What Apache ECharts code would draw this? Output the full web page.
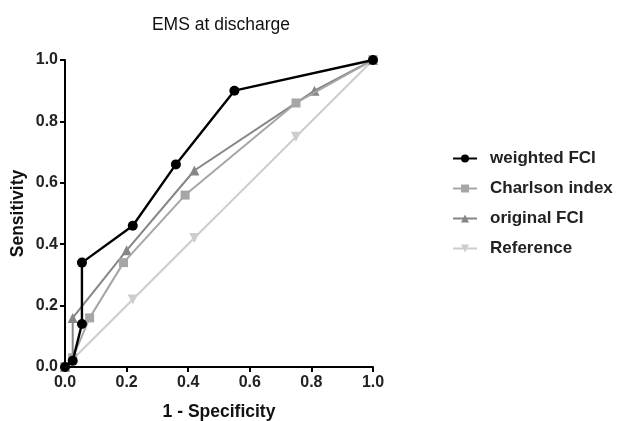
<!DOCTYPE html>
<html>
<head>
<meta charset="utf-8">
<script src="https://cdn.jsdelivr.net/npm/echarts@6/dist/echarts.min.js"></script>
<style>
  html, body { margin: 0; padding: 0; background: #fff; }
  #chart { width: 623px; height: 421px; }
</style>
</head>
<body>
<div id="chart"></div>
<script>
// ROC points, [1 - specificity, sensitivity]
var weightedFCI = [[0, 0], [0.025, 0.02], [0.055, 0.14], [0.055, 0.34], [0.22, 0.46], [0.36, 0.66], [0.55, 0.90], [1, 1]];
var charlsonIndex = [[0, 0], [0.025, 0.03], [0.08, 0.16], [0.19, 0.34], [0.39, 0.56], [0.75, 0.86], [1, 1]];
var originalFCI = [[0, 0], [0.025, 0.03], [0.025, 0.16], [0.20, 0.38], [0.42, 0.64], [0.81, 0.90], [1, 1]];
var reference = [[0, 0], [0.22, 0.22], [0.42, 0.42], [0.75, 0.75], [1, 1]];

var seriesNames = ['weighted FCI', 'Charlson index', 'original FCI', 'Reference'];
var seriesColors = ['#000000', '#a6a6a6', '#868686', '#cdcdcd'];

var chart = echarts.init(document.getElementById('chart'));

function mkSeries(i, data, symbol, size, rotate) {
    return {
        name: seriesNames[i],
        type: 'line',
        data: data,
        symbol: symbol,
        symbolSize: size,
        symbolRotate: rotate || 0,
        showAllSymbol: true,
        color: seriesColors[i],
        lineStyle: { color: seriesColors[i], width: i == 0 ? 2.4 : 2 },
        itemStyle: { color: seriesColors[i] },
        z: 10 - i
    };
}

var axisFont = { fontFamily: 'Liberation Sans', fontWeight: 'bold', fontSize: 16, color: '#222' };
var nameFont = { fontFamily: 'Liberation Sans', fontWeight: 'bold', fontSize: 17.5, color: '#111' };

var option = {
    animation: false,
    backgroundColor: '#fff',
    title: {
        text: 'EMS at discharge',
        left: 216,
        top: 11,
        textAlign: 'center',
        textStyle: { fontFamily: 'Liberation Sans', fontWeight: 'normal', fontSize: 17.5, color: '#111' }
    },
    legend: {
        orient: 'vertical',
        left: 447,
        top: 145,
        itemWidth: 24,
        itemHeight: 10,
        itemGap: 13,
        data: seriesNames,
        textStyle: { fontFamily: 'Liberation Sans', fontWeight: 'bold', fontSize: 17, color: '#222', padding: [0, 0, 0, 8] }
    },
    grid: { left: 65, right: 250, top: 60, bottom: 54, outerBoundsMode: 'none' },
    xAxis: {
        type: 'value',
        min: 0, max: 1, interval: 0.2,
        name: '1 - Specificity',
        nameLocation: 'middle',
        nameGap: 36,
        nameTextStyle: nameFont,
        axisLine: { lineStyle: { color: '#000', width: 2 } },
        axisTick: { show: true, length: 5, lineStyle: { color: '#000', width: 2 } },
        axisLabel: Object.assign({ margin: 8, formatter: function (v) { return v.toFixed(1); } }, axisFont),
        splitLine: { show: false }
    },
    yAxis: {
        type: 'value',
        min: 0, max: 1, interval: 0.2,
        name: 'Sensitivity',
        nameLocation: 'middle',
        nameGap: 38,
        nameTextStyle: nameFont,
        axisLine: { show: true, lineStyle: { color: '#000', width: 2 } },
        axisTick: { show: true, length: 5, lineStyle: { color: '#000', width: 2 } },
        axisLabel: Object.assign({ margin: 7, formatter: function (v) { return v.toFixed(1); } }, axisFont),
        splitLine: { show: false }
    },
    series: [
        mkSeries(0, weightedFCI, 'circle', 10),
        mkSeries(1, charlsonIndex, 'rect', 9),
        mkSeries(2, originalFCI, 'triangle', 10),
        mkSeries(3, reference, 'triangle', 10, 180)
    ]
};

chart.setOption(option);
</script>
</body>
</html>
